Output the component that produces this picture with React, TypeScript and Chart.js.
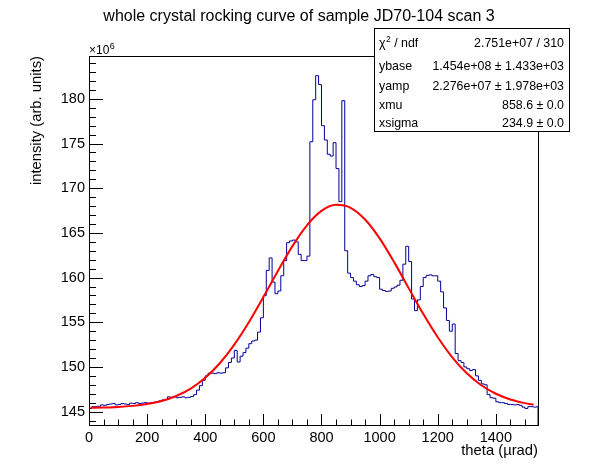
import React, { useEffect, useRef } from "react";
import { Chart, registerables } from "chart.js";

Chart.register(...registerables);

// histogram: 10 urad bins starting at 0, intensity in units of 1e6
const binWidth = 10;
const thetaMax = 1545;
const intensity = [
  145.35, 145.55, 145.55, 145.6, 145.75, 145.7, 145.8, 145.85, 145.9, 145.75,
  145.8, 145.9, 145.85, 145.8, 145.95, 145.9, 146.0, 145.9, 145.95, 146.0,
  145.95, 146.0, 146.05, 146.1, 146.2, 146.3, 146.35, 146.65, 146.6, 146.65,
  146.55, 146.6, 146.65, 146.55, 146.6, 146.7, 146.9, 147.4, 147.9, 148.5,
  149.0, 149.3, 149.3, 149.25, 149.35, 149.3, 149.35, 149.9, 150.5, 151.0,
  151.85, 150.55, 151.2, 151.6, 152.1, 152.6, 152.9, 153.0, 153.9, 155.5,
  158.0, 160.8, 162.2, 159.5, 158.2, 158.5, 160.2, 161.9, 163.9, 164.1,
  164.2, 164.0, 162.6, 161.9, 161.9, 162.4, 175.2, 179.9, 182.6, 181.6,
  177.0, 175.4, 173.8, 173.6, 175.1, 172.2, 168.5, 179.8, 163.0, 160.5,
  160.0, 159.6, 159.2, 159.0, 159.1, 159.6, 160.2, 160.35, 160.1, 160.0,
  158.7, 158.55, 158.45, 158.5, 158.8, 158.95, 159.15, 159.7, 161.5, 163.5,
  161.8, 157.6, 156.3, 157.5, 159.0, 160.0, 160.25, 160.3, 160.2, 160.2,
  159.6, 158.4, 156.6, 155.2, 154.0, 154.8, 151.5, 150.7, 150.5, 150.0,
  149.8, 149.6, 149.7, 149.0, 148.5, 148.1, 148.0, 146.9, 146.55, 146.5,
  146.1, 146.0, 146.0, 145.9, 145.8, 145.8, 145.75, 145.8, 145.7, 145.5,
  145.35, 145.55, 145.55, 145.5, 145.55,
];

// gaussian fit curve
const fitTheta = [
  5, 50, 100, 150, 200, 250, 300, 350, 400, 450, 500, 550, 600, 650, 700, 750,
  800, 850, 900, 950, 1000, 1050, 1100, 1150, 1200, 1250, 1300, 1350, 1400,
  1450, 1500, 1530,
];
const fitIntensity = [
  145.43, 145.46, 145.52, 145.64, 145.85, 146.19, 146.75, 147.58, 148.78,
  150.41, 152.5, 155.0, 157.82, 160.74, 163.52, 165.85, 167.46, 168.14, 167.81,
  166.5, 164.39, 161.73, 158.82, 155.94, 153.32, 151.08, 149.29, 147.95, 147.0,
  146.36, 145.95, 145.78,
];

const xTicks = [0, 200, 400, 600, 800, 1000, 1200, 1400];
const yTicks = [145, 150, 155, 160, 165, 170, 175, 180];
const yMin = 143.5;
const yMax = 184.8;

const statNames = ["ybase", "yamp", "xmu", "xsigma"];
const statValues = [
  "2.751e+07 / 310",
  "1.454e+08 \u00b1 1.433e+03",
  "2.276e+07 \u00b1 1.978e+03",
  "858.6 \u00b1 0.0",
  "234.9 \u00b1 0.0",
];

const FONT = '"Liberation Sans", Arial, Helvetica, sans-serif';

const rootStyle = {
  id: "rootStyle",
  afterDraw(chart: any) {
    const { ctx, chartArea: a, scales } = chart;
    const xs = scales.x;
    const ys = scales.y;
    ctx.save();
    ctx.strokeStyle = "#000";
    ctx.lineWidth = 1;

    // ticks inside the frame
    ctx.beginPath();
    for (let v = 0; v <= thetaMax; v += 50) {
      const px = Math.round(xs.getPixelForValue(v)) + 0.5;
      const len = v % 200 === 0 ? 11 : 5.5;
      ctx.moveTo(px, a.bottom);
      ctx.lineTo(px, a.bottom - len);
    }
    for (let v = Math.ceil(yMin); v <= yMax; v++) {
      const py = Math.round(ys.getPixelForValue(v)) + 0.5;
      const len = v % 5 === 0 ? 14 : 7;
      ctx.moveTo(a.left, py);
      ctx.lineTo(a.left + len, py);
    }
    ctx.stroke();
    ctx.strokeRect(a.left + 0.5, a.top + 0.5, a.right - a.left, a.bottom - a.top);

    ctx.fillStyle = "#000";
    ctx.textBaseline = "alphabetic";

    // title
    ctx.font = `16px ${FONT}`;
    ctx.textAlign = "center";
    ctx.fillText("whole crystal rocking curve of sample JD70-104 scan 3", 299, 21);

    // axis titles
    ctx.font = `14.8px ${FONT}`;
    ctx.textAlign = "right";
    ctx.fillText("theta (\u00b5rad)", a.right, 455);
    ctx.save();
    ctx.translate(41, a.top);
    ctx.rotate(-Math.PI / 2);
    ctx.fillText("intensity (arb. units)", 0, 0);
    ctx.restore();

    // exponent
    ctx.textAlign = "left";
    ctx.font = `12px ${FONT}`;
    ctx.fillText("\u00d710", a.left, 54);
    const w10 = ctx.measureText("\u00d710").width;
    ctx.font = `9px ${FONT}`;
    ctx.fillText("6", a.left + w10 + 0.5, 48.5);

    // stats box
    const bx = 374;
    const by = 28;
    const bw = 195;
    const bh = 103;
    ctx.fillStyle = "#fff";
    ctx.fillRect(bx, by, bw, bh);
    ctx.strokeRect(bx + 0.5, by + 0.5, bw, bh);
    ctx.fillStyle = "#000";
    const rows = [46.5, 70, 89.5, 109, 127];
    ctx.font = `12.4px ${FONT}`;
    ctx.textAlign = "left";
    ctx.fillText("\u03c7", 379, rows[0]);
    const wc = ctx.measureText("\u03c7").width;
    ctx.font = `8.5px ${FONT}`;
    ctx.fillText("2", 379 + wc + 0.5, rows[0] - 5);
    const w2 = ctx.measureText("2").width;
    ctx.font = `12.4px ${FONT}`;
    ctx.fillText(" / ndf", 379 + wc + w2 + 0.5, rows[0]);
    statNames.forEach((n, i) => ctx.fillText(n, 379, rows[i + 1]));
    ctx.textAlign = "right";
    statValues.forEach((s, i) => ctx.fillText(s, 564, rows[i]));

    ctx.restore();
  },
};

const App: React.FC = () => {
  const canvasRef = useRef<HTMLCanvasElement | null>(null);

  useEffect(() => {
    const canvas = canvasRef.current;
    if (!canvas) return;

    const histPoints: { x: number; y: number }[] = [{ x: 0, y: yMin }];
    intensity.forEach((v, i) => histPoints.push({ x: i * binWidth, y: v }));
    histPoints.push({ x: thetaMax, y: intensity[intensity.length - 1] });
    histPoints.push({ x: thetaMax, y: yMin });

    const fitPoints = fitTheta.map((t, i) => ({ x: t, y: fitIntensity[i] }));

    const chart = new Chart(canvas, {
      type: "line",
      data: {
        datasets: [
          {
            label: "fit",
            data: fitPoints,
            borderColor: "#ff0000",
            borderWidth: 2,
            pointRadius: 0,
            cubicInterpolationMode: "monotone",
            fill: false,
            order: 0,
          },
          {
            label: "scan 3",
            data: histPoints,
            borderColor: "#000099",
            borderWidth: 1,
            pointRadius: 0,
            stepped: "before",
            fill: false,
            order: 1,
          },
        ],
      },
      options: {
        responsive: false,
        animation: false,
        events: [],
        layout: { padding: { left: 0, right: 60, top: 56, bottom: 0 } },
        plugins: {
          legend: { display: false },
          tooltip: { enabled: false },
          title: { display: false },
        },
        scales: {
          x: {
            type: "linear",
            min: 0,
            max: thetaMax,
            grid: { display: false, drawTicks: false },
            border: { display: false },
            afterBuildTicks: (s: any) => {
              s.ticks = xTicks.map((v) => ({ value: v }));
            },
            afterFit: (s: any) => {
              s.height = 49;
            },
            ticks: {
              autoSkip: false,
              maxRotation: 0,
              padding: 4.5,
              color: "#000",
              font: { family: FONT, size: 14.5 },
              callback: (v: any) => String(v),
            },
          },
          y: {
            type: "linear",
            min: yMin,
            max: yMax,
            grid: { display: false, drawTicks: false },
            border: { display: false },
            afterBuildTicks: (s: any) => {
              s.ticks = yTicks.map((v) => ({ value: v }));
            },
            afterFit: (s: any) => {
              s.width = 89;
            },
            ticks: {
              autoSkip: false,
              padding: 4,
              color: "#000",
              font: { family: FONT, size: 14.5 },
              callback: (v: any) => String(v),
            },
          },
        },
      },
      plugins: [rootStyle],
    });

    return () => {
      chart.destroy();
    };
  }, []);

  return (
    <div style={{ position: "absolute", left: 0, top: 0, width: 598, height: 474, background: "#fff" }}>
      <canvas ref={canvasRef} width={598} height={474} style={{ width: 598, height: 474 }} />
    </div>
  );
};

export default App;
